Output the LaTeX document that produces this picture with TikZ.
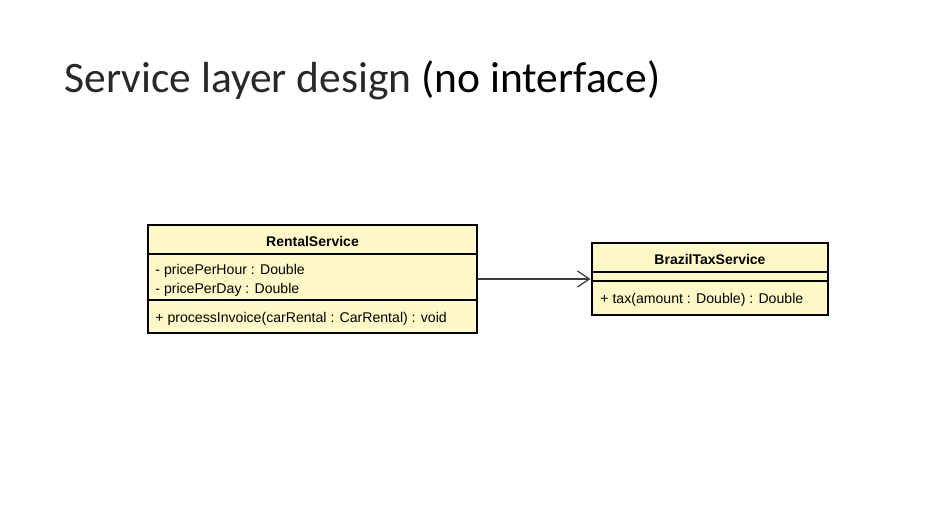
\documentclass[tikz,border=0pt]{standalone}
\usepackage{fontspec}
\setmainfont{Liberation Sans}
\newfontfamily\titlefont{Carlito}
\usetikzlibrary{arrows.meta}

\definecolor{classcolor}{RGB}{255,249,200}
\definecolor{linkcolor}{RGB}{60,60,60}
\definecolor{titlelight}{RGB}{40,40,40}

\begin{document}
\begin{tikzpicture}[x=1pt, y=-1pt, thick,
	classbox/.style = {draw, line width=2.8pt, fill=classcolor, inner sep=0pt},
	head/.style = {font=\bfseries\fontsize{14}{16}\selectfont, inner sep=0pt},
	member/.style = {font=\fontsize{14.1}{16}\selectfont, anchor=base west, inner sep=0pt},
	divider/.style = {line width=1.2pt}]
	\useasboundingbox (0,0) rectangle (948,525);

	\node[anchor=base west, inner sep=0pt, font=\titlefont\fontsize{43.5}{48}\selectfont] (title) at (64,92) {\textcolor{titlelight}{Service layer design} (no interface)};

	% RentalService
	\node[classbox, minimum width=329pt, minimum height=108pt] (Rental) at (312.5,279) {};
	\node[head] (RentalName) at (312.5,241) {RentalService};
	\draw[divider] (148,254) -- (477,254);
	\node[member] (RentalHour) at (155,274) {- pricePerHour : Double};
	\node[member] (RentalDay) at (155,293) {- pricePerDay : Double};
	\draw[divider] (148,300) -- (477,300);
	\node[member] (RentalOp) at (155,322) {+ processInvoice(carRental : CarRental) : void};

	% BrazilTaxService
	\node[classbox, minimum width=236pt, minimum height=72pt] (Brazil) at (710,279) {};
	\node[head] (BrazilName) at (710,259) {BrazilTaxService};
	\draw[divider] (592,272) -- (828,272);
	\draw[divider] (592,281) -- (828,281);
	\node[member] (BrazilOp) at (600,303) {+ tax(amount : Double) : Double};

	\draw[linkcolor, line width=1.3pt, -{Straight Barb[length=12pt, width=16pt, line width=1.3pt]}] (Rental) -- (Brazil);
\end{tikzpicture}
\end{document}
